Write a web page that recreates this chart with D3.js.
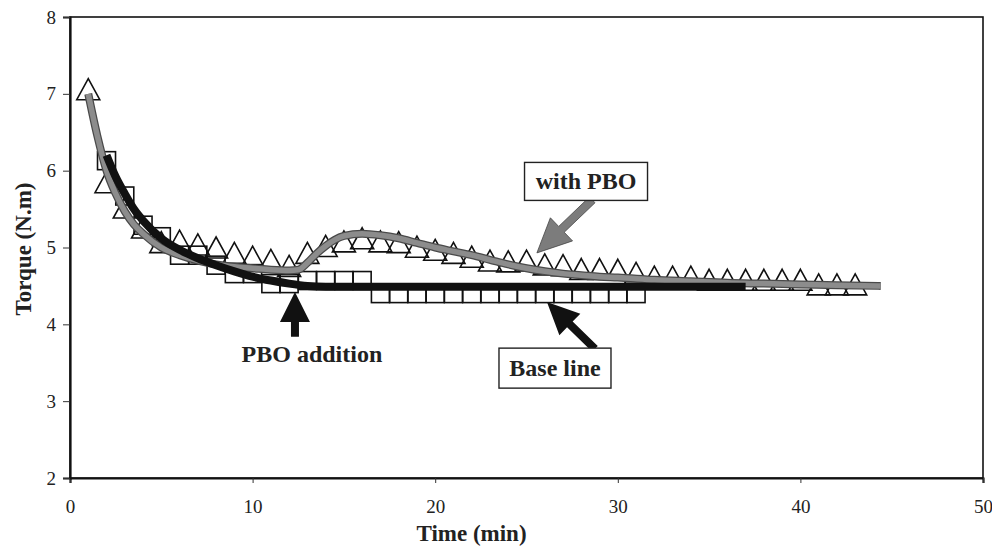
<!DOCTYPE html>
<html>
<head>
<meta charset="utf-8">
<script src="https://cdn.jsdelivr.net/npm/d3@7"></script>
<style>
  body { margin: 0; background: #fff; }
  text { font-family: "Liberation Serif", "Times New Roman", serif; }
</style>
</head>
<body>
<div class="chart"></div>
<script>
// torque curves

// "with PBO" run, triangle markers (time in min, torque in N.m)
var triTime = [1, 2, 3, 4, 5, 6, 7, 8, 9, 10, 11, 12, 13, 14, 15, 16, 17, 18, 19, 20, 21, 22,
               23, 24, 25, 26, 27, 28, 29, 30, 31, 32, 33, 34, 35, 36, 37, 38, 39, 40, 41, 42, 43];
var triTorque = [7.06, 5.85, 5.52, 5.26, 5.07, 5.09, 5.04, 5.00, 4.93, 4.88, 4.84, 4.76, 4.93, 5.02,
                 5.08, 5.12, 5.08, 5.07, 5.01, 4.97, 4.93, 4.88, 4.83, 4.82, 4.83, 4.78, 4.77, 4.72,
                 4.72, 4.71, 4.67, 4.62, 4.62, 4.62, 4.58, 4.58, 4.58, 4.58, 4.58, 4.58, 4.52, 4.52, 4.52];

// base line run, square markers
var sqTime = [2, 3, 4, 5, 6, 7, 8, 9, 10, 11, 12, 13, 14, 15, 16, 17, 18, 19, 20, 21, 22, 23,
              24, 25, 26, 27, 28, 29, 30, 31];
var sqTorque = [6.13, 5.67, 5.29, 5.14, 4.90, 4.90, 4.77, 4.66, 4.66, 4.53, 4.53, 4.57, 4.57, 4.57,
                4.57, 4.40, 4.40, 4.40, 4.40, 4.40, 4.40, 4.40, 4.40, 4.40, 4.40, 4.40, 4.40, 4.40,
                4.40, 4.40];

// smoothed curve through the "with PBO" run (grey line)
var pboCurveTime = [1, 1.5, 2, 2.5, 3, 3.5, 4, 5, 6, 7, 8, 9, 10, 11, 12, 12.5, 13, 13.5, 14, 14.5,
                    15, 16, 17, 18, 19, 20, 21, 22, 23, 24, 25, 26, 27, 28, 29, 30, 32, 34, 36,
                    38, 40, 42, 44.4];
var pboCurveTorque = [7.0, 6.45, 6.0, 5.7, 5.47, 5.3, 5.18, 5.0, 4.9, 4.83, 4.78, 4.75, 4.73, 4.71,
                      4.70, 4.71, 4.80, 4.92, 5.02, 5.10, 5.15, 5.18, 5.16, 5.12, 5.06, 5.00, 4.95,
                      4.90, 4.84, 4.78, 4.73, 4.69, 4.66, 4.64, 4.62, 4.61, 4.58, 4.56, 4.54, 4.53,
                      4.52, 4.51, 4.50];

// smoothed curve through the base line run (black line)
var baseCurveTime = [2, 2.5, 3, 3.5, 4, 5, 6, 7, 8, 9, 10, 11, 12, 13, 14, 16, 20, 25, 30, 37];
var baseCurveTorque = [6.2, 5.92, 5.7, 5.5, 5.35, 5.12, 4.97, 4.86, 4.77, 4.69, 4.62, 4.57, 4.53,
                       4.50, 4.49, 4.49, 4.49, 4.49, 4.49, 4.49];

var xTicks = [0, 10, 20, 30, 40, 50];
var yTicks = [2, 3, 4, 5, 6, 7, 8];

var W = 992, H = 548;
var margin = { top: 17, right: 9, bottom: 70, left: 70 };
var width = W - margin.left - margin.right;
var height = H - margin.top - margin.bottom;

var serif = "'Liberation Serif', 'Times New Roman', serif";

var xScale = d3.scaleLinear().domain([0, 50]).range([0, width]);
var yScale = d3.scaleLinear().domain([2, 8]).range([height, 0]);

var svg = d3.select("div.chart").append("svg")
    .attr("width", W)
    .attr("height", H)
    .append("g")
    .attr("transform", "translate(" + margin.left + "," + margin.top + ")");

// frame
svg.append("rect")
    .attr("x", 0).attr("y", 0)
    .attr("width", width).attr("height", height)
    .attr("fill", "none")
    .attr("stroke", "#111")
    .attr("stroke-width", 1.6);

// axes
var xAxis = d3.axisBottom(xScale).tickValues(xTicks).tickFormat(d3.format("d"))
    .tickSize(5).tickPadding(17);
var yAxis = d3.axisLeft(yScale).tickValues(yTicks).tickFormat(d3.format("d"))
    .tickSize(7).tickPadding(7);

var gx = svg.append("g")
    .attr("class", "x axis")
    .attr("transform", "translate(0," + height + ")")
    .call(xAxis);
var gy = svg.append("g")
    .attr("class", "y axis")
    .call(yAxis);

[gx, gy].forEach(function(g) {
    g.attr("font-family", serif).attr("font-size", 19);
    g.select(".domain").attr("stroke", "#111").attr("stroke-width", 2.2);
    g.selectAll(".tick line").attr("stroke", "#333").attr("stroke-width", 1);
    g.selectAll(".tick text")
        .style("font-family", serif)
        .style("font-size", "19px")
        .attr("fill", "#222");
});

svg.append("text")
    .attr("x", width / 2 - 55)
    .attr("y", height + 63)
    .style("text-anchor", "middle")
    .style("font-size", "23px")
    .style("font-weight", "bold")
    .attr("fill", "#222")
    .text("Time (min)");

svg.append("text")
    .attr("transform", "rotate(-90)")
    .attr("x", 0 - 232)
    .attr("y", 0 - 39)
    .style("text-anchor", "middle")
    .style("font-size", "23px")
    .style("font-weight", "bold")
    .attr("fill", "#222")
    .text("Torque (N.m)");

// markers
var squares = sqTime.map(function(t, i) { return { t: t, v: sqTorque[i] }; });
var triangles = triTime.map(function(t, i) { return { t: t, v: triTorque[i] }; });

var sqSize = 18;
svg.append("g").selectAll("rect.sq")
    .data(squares)
    .enter().append("rect")
    .attr("class", "sq")
    .attr("x", function(d) { return xScale(d.t) - sqSize / 2; })
    .attr("y", function(d) { return yScale(d.v) - sqSize / 2; })
    .attr("width", sqSize)
    .attr("height", sqSize)
    .attr("fill", "none")
    .attr("stroke", "#111")
    .attr("stroke-width", 1.6);

var triPath = "M0,-10.5L11.5,10.5L-11.5,10.5Z";
svg.append("g").selectAll("path.tri")
    .data(triangles)
    .enter().append("path")
    .attr("class", "tri")
    .attr("d", triPath)
    .attr("transform", function(d) {
        return "translate(" + xScale(d.t) + "," + yScale(d.v) + ")";
    })
    .attr("fill", "none")
    .attr("stroke", "#111")
    .attr("stroke-width", 1.6);

// fitted curves
var line = d3.line()
    .x(function(d) { return xScale(d[0]); })
    .y(function(d) { return yScale(d[1]); })
    .curve(d3.curveMonotoneX);

var pboLine = d3.zip(pboCurveTime, pboCurveTorque);
svg.append("path")
    .datum(pboLine)
    .attr("d", line)
    .attr("fill", "none")
    .attr("stroke", "#4a4a4a")
    .attr("stroke-width", 8);
svg.append("path")
    .datum(pboLine)
    .attr("d", line)
    .attr("fill", "none")
    .attr("stroke", "#8c8c8c")
    .attr("stroke-width", 5.5);

svg.append("path")
    .datum(d3.zip(baseCurveTime, baseCurveTorque))
    .attr("d", line)
    .attr("fill", "none")
    .attr("stroke", "#111")
    .attr("stroke-width", 8);

// annotations (anchors in data units)
function arrowPath(x1, y1, x2, y2, shaft, headW, headL) {
    var dx = x2 - x1, dy = y2 - y1;
    var len = Math.sqrt(dx * dx + dy * dy);
    var ux = dx / len, uy = dy / len, px = -uy, py = ux;
    var bx = x2 - ux * headL, by = y2 - uy * headL;
    var pts = [
        [x1 + px * shaft / 2, y1 + py * shaft / 2],
        [bx + px * shaft / 2, by + py * shaft / 2],
        [bx + px * headW / 2, by + py * headW / 2],
        [x2, y2],
        [bx - px * headW / 2, by - py * headW / 2],
        [bx - px * shaft / 2, by - py * shaft / 2],
        [x1 - px * shaft / 2, y1 - py * shaft / 2]
    ];
    return "M" + pts.map(function(p) { return p[0] + "," + p[1]; }).join("L") + "Z";
}

function labelBox(t, v, w, h, txt) {
    var cx = xScale(t), cy = yScale(v);
    svg.append("rect")
        .attr("x", cx - w / 2).attr("y", cy - h / 2)
        .attr("width", w).attr("height", h)
        .attr("fill", "#fff")
        .attr("stroke", "#222")
        .attr("stroke-width", 1.4);
    svg.append("text")
        .attr("x", cx).attr("y", cy + 8)
        .style("text-anchor", "middle")
        .style("font-size", "24px")
        .style("font-weight", "bold")
        .attr("fill", "#222")
        .text(txt);
}

// "with PBO"
svg.append("path")
    .attr("d", arrowPath(xScale(28.6), yScale(5.62), xScale(25.57), yScale(4.93), 8, 32, 34))
    .attr("fill", "#7c7c7c")
    .attr("stroke", "#444")
    .attr("stroke-width", 0.8);
labelBox(28.26, 5.86, 123, 38, "with PBO");

// "Base line"
svg.append("path")
    .attr("d", arrowPath(xScale(28.75), yScale(3.68), xScale(26.12), yScale(4.29), 8, 30, 32))
    .attr("fill", "#111");
labelBox(26.56, 3.43, 112, 40, "Base line");

// "PBO addition"
svg.append("path")
    .attr("d", arrowPath(xScale(12.32), yScale(3.84), xScale(12.32), yScale(4.42), 8, 30, 30))
    .attr("fill", "#111");
svg.append("text")
    .attr("x", xScale(13.25))
    .attr("y", yScale(3.6) + 7)
    .style("text-anchor", "middle")
    .style("font-size", "24px")
    .style("font-weight", "bold")
    .attr("fill", "#222")
    .text("PBO addition");
</script>
</body>
</html>
